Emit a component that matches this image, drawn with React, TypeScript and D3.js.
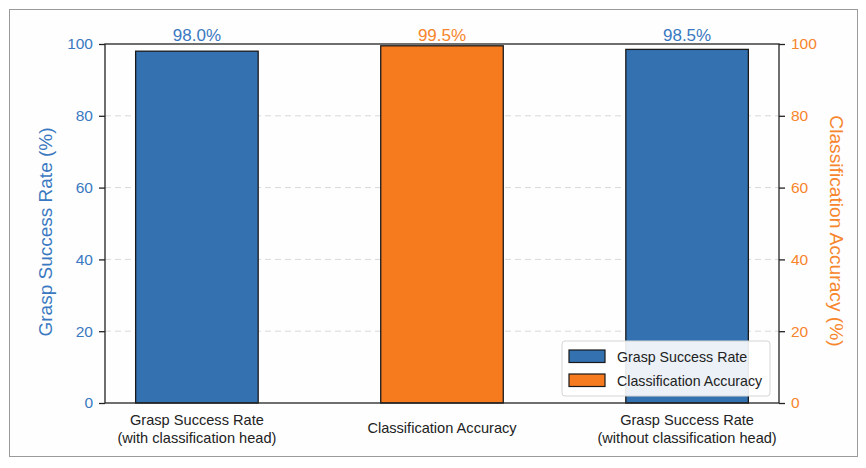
import { useEffect, useRef } from 'react';
import * as d3 from 'd3';

const categories = [
	['Grasp Success Rate', '(with classification head)'],
	['Classification Accuracy'],
	['Grasp Success Rate', '(without classification head)'],
];
const values = [98.0, 99.5, 98.5];
const seriesOf = ['grasp', 'cls', 'grasp'];
const yTicks = [0, 20, 40, 60, 80, 100];
const legendItems = [
	{ key: 'grasp', label: 'Grasp Success Rate' },
	{ key: 'cls', label: 'Classification Accuracy' },
];

const BLUE = '#3471b0';
const ORANGE = '#f67b1f';
const BLUE_TEXT = '#3a79c1';
const ORANGE_TEXT = '#f7852c';
const FONT = '"Liberation Sans", Arial, sans-serif';

const W = 866;
const H = 468;

const App = () => {
	const ref = useRef<SVGSVGElement>(null);

	useEffect(() => {
		document.body.style.margin = '0';
		if (!ref.current) return;
		const svg = d3.select(ref.current);
		svg.selectAll('*').remove();

		const left = 105;
		const right = 779;
		const top = 44;
		const bottom = 403;

		svg.append('rect')
			.attr('x', 9.5).attr('y', 9.5)
			.attr('width', 848).attr('height', 447)
			.attr('fill', '#fefefe')
			.attr('stroke', '#9a9a9a')
			.attr('stroke-width', 1);

		const x = d3.scaleLinear().domain([-0.375, 2.375]).range([left, right]);
		const y = d3.scaleLinear().domain([0, 100]).range([bottom, top]);
		const barW = x(0.25) - x(-0.25);
		const color = (k: string) => (k === 'grasp' ? BLUE : ORANGE);
		const textColor = (k: string) => (k === 'grasp' ? BLUE_TEXT : ORANGE_TEXT);

		// grid
		svg.append('g')
			.selectAll('line')
			.data(yTicks.filter((t) => t > 0 && t < 100))
			.join('line')
			.attr('x1', left).attr('x2', right)
			.attr('y1', (d) => y(d)).attr('y2', (d) => y(d))
			.attr('stroke', '#d9d9d9')
			.attr('stroke-width', 1)
			.attr('stroke-dasharray', '6,4');

		// bars
		svg.append('g')
			.selectAll('rect')
			.data(values)
			.join('rect')
			.attr('x', (_, i) => x(i) - barW / 2)
			.attr('width', barW)
			.attr('y', (d) => y(d))
			.attr('height', (d) => y(0) - y(d))
			.attr('fill', (_, i) => color(seriesOf[i]))
			.attr('stroke', '#1a1a1a')
			.attr('stroke-width', 1.3);

		// value labels
		svg.append('g')
			.selectAll('text')
			.data(values)
			.join('text')
			.attr('x', (_, i) => x(i))
			.attr('y', top - 3)
			.attr('text-anchor', 'middle')
			.style('font-family', FONT)
			.style('font-size', '17px')
			.style('fill', (_, i) => textColor(seriesOf[i]))
			.text((d) => `${d.toFixed(1)}%`);

		// frame
		svg.append('rect')
			.attr('x', left).attr('y', top)
			.attr('width', right - left).attr('height', bottom - top)
			.attr('fill', 'none')
			.attr('stroke', '#222')
			.attr('stroke-width', 1.3);

		// left axis
		const leftAxis = svg.append('g')
			.attr('transform', `translate(${left},0)`)
			.call(d3.axisLeft(y).tickValues(yTicks).tickSize(6).tickPadding(6));
		leftAxis.select('.domain').remove();
		leftAxis.selectAll('line').attr('stroke', '#222').attr('stroke-width', 1.3);
		leftAxis.selectAll('text')
			.style('font-family', FONT)
			.style('font-size', '15.5px')
			.attr('fill', BLUE_TEXT);

		// right axis
		const rightAxis = svg.append('g')
			.attr('transform', `translate(${right},0)`)
			.call(d3.axisRight(y).tickValues(yTicks).tickSize(6).tickPadding(6));
		rightAxis.select('.domain').remove();
		rightAxis.selectAll('line').attr('stroke', '#222').attr('stroke-width', 1.3);
		rightAxis.selectAll('text')
			.style('font-family', FONT)
			.style('font-size', '15.5px')
			.attr('fill', ORANGE_TEXT);

		// axis titles
		svg.append('text')
			.attr('transform', `translate(52,232) rotate(-90)`)
			.attr('text-anchor', 'middle')
			.style('font-family', FONT)
			.style('font-size', '19px')
			.style('fill', BLUE_TEXT)
			.text('Grasp Success Rate (%)');
		svg.append('text')
			.attr('transform', `translate(830,231) rotate(90)`)
			.attr('text-anchor', 'middle')
			.style('font-family', FONT)
			.style('font-size', '19.2px')
			.style('fill', ORANGE_TEXT)
			.text('Classification Accuracy (%)');

		// category labels
		const cat = svg.append('g')
			.selectAll('text')
			.data(categories)
			.join('text')
			.attr('text-anchor', 'middle')
			.style('font-family', FONT)
			.style('font-size', '14.6px')
			.style('fill', '#222');
		cat.each(function (lines, i) {
			const t = d3.select(this);
			lines.forEach((ln, j) => {
				t.append('tspan')
					.attr('x', x(i))
					.attr('y', lines.length === 1 ? 433 : 425 + j * 17.5)
					.text(ln);
			});
		});

		// legend
		const lg = svg.append('g').attr('transform', 'translate(562,341)');
		lg.append('rect')
			.attr('width', 208).attr('height', 55)
			.attr('rx', 3)
			.attr('fill', '#fff')
			.attr('fill-opacity', 0.9)
			.attr('stroke', '#d5d5d5');
		const li = lg.selectAll('g.item')
			.data(legendItems)
			.join('g')
			.attr('class', 'item')
			.attr('transform', (_, i) => `translate(7,${9 + i * 24})`);
		li.append('rect')
			.attr('width', 36).attr('height', 12.5)
			.attr('fill', (d) => color(d.key))
			.attr('stroke', '#1a1a1a')
			.attr('stroke-width', 1.2);
		li.append('text')
			.attr('x', 48).attr('y', 11.5)
			.style('font-family', FONT)
			.style('font-size', '14.2px')
			.style('fill', '#222')
			.text((d) => d.label);
	}, []);

	return <svg ref={ref} width={W} height={H} style={{ display: 'block' }} />;
};

export default App;
